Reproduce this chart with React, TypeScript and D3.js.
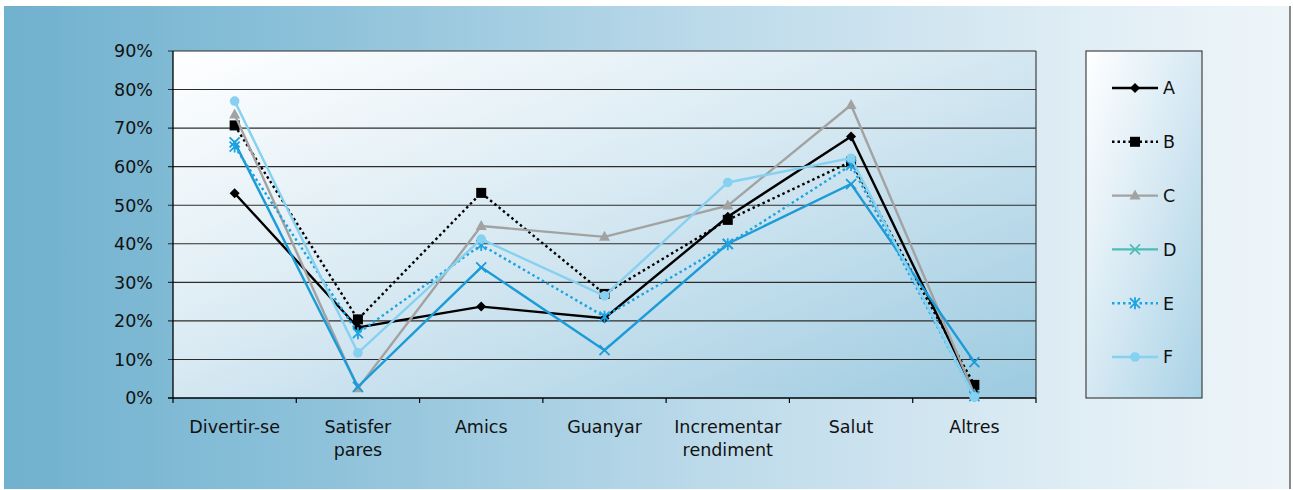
import React from "react";
import * as d3 from "d3";

const categories = ["Divertir-se", "Satisfer pares", "Amics", "Guanyar", "Incrementar rendiment", "Salut", "Altres"];
const categoryLines = [["Divertir-se"], ["Satisfer", "pares"], ["Amics"], ["Guanyar"], ["Incrementar", "rendiment"], ["Salut"], ["Altres"]];
const seriesNames = ["A", "B", "C", "D", "E", "F"];
const valuesA = [53.1, 18.3, 23.7, 20.7, 47.0, 67.8, 1.5];
const valuesB = [70.7, 20.4, 53.2, 27.0, 46.2, 61.3, 3.4];
const valuesC = [73.5, 2.5, 44.6, 41.8, 49.9, 76.0, 1.0];
const valuesD = [66.3, 2.9, 33.9, 12.4, 40.0, 55.5, 9.3];
const valuesE = [65.2, 16.8, 39.7, 21.1, 39.9, 60.4, 0.5];
const valuesF = [77.0, 11.7, 41.2, 26.5, 55.9, 62.2, 0.3];
const yTicks = [0, 10, 20, 30, 40, 50, 60, 70, 80, 90];

const allValues = [valuesA, valuesB, valuesC, valuesD, valuesE, valuesF];

type Style = { color: string; legendColor: string; dash?: string; marker: string };
const styles: Style[] = [
  { color: "#000000", legendColor: "#000000", marker: "diamond" },
  { color: "#000000", legendColor: "#000000", dash: "2.5,3", marker: "square" },
  { color: "#a2a2a2", legendColor: "#a2a2a2", marker: "triangle" },
  { color: "#1b9bd8", legendColor: "#4dbdb5", marker: "x" },
  { color: "#1ca3e2", legendColor: "#1ca3e2", dash: "2.5,3", marker: "star" },
  { color: "#86d0f0", legendColor: "#86d0f0", marker: "circle" },
];

const FONT = "'DejaVu Sans', sans-serif";

function Marker({ type, x, y, color }: { type: string; x: number; y: number; color: string }) {
  const s = 5;
  switch (type) {
    case "diamond":
      return <path d={`M${x},${y - s}L${x + s},${y}L${x},${y + s}L${x - s},${y}Z`} fill={color} />;
    case "square":
      return <rect x={x - 5} y={y - 5} width={10} height={10} fill={color} />;
    case "triangle":
      return <path d={`M${x},${y - 6}L${x + 5.5},${y + 4}L${x - 5.5},${y + 4}Z`} fill={color} />;
    case "x":
      return (
        <path d={`M${x - 5},${y - 5}L${x + 5},${y + 5}M${x - 5},${y + 5}L${x + 5},${y - 5}`} stroke={color} strokeWidth={1.8} fill="none" />
      );
    case "star":
      return (
        <path
          d={`M${x - 5},${y - 5}L${x + 5},${y + 5}M${x - 5},${y + 5}L${x + 5},${y - 5}M${x},${y - 6}L${x},${y + 6}`}
          stroke={color}
          strokeWidth={1.8}
          fill="none"
        />
      );
    case "circle":
      return <circle cx={x} cy={y} r={4.8} fill={color} />;
  }
  return null;
}

export default function App() {
  const W = 1293;
  const H = 490;
  const left = 173;
  const right = 1036;
  const top = 51;
  const bottom = 398;

  const x = d3.scaleBand<string>().domain(categories).range([left, right]);
  const y = d3.scaleLinear().domain([0, 90]).range([bottom, top]);
  const xc = (c: string) => (x(c) as number) + x.bandwidth() / 2;

  const line = d3
    .line<number>()
    .x((_, i) => xc(categories[i]))
    .y((v) => y(v));

  const legendTop = 88;
  const legendStep = 53.8;

  return (
    <svg width={W} height={H} style={{ position: "absolute", left: 0, top: 0 }}>
      <defs>
        <linearGradient id="bg" x1="0" y1="0" x2="1" y2="0">
          <stop offset="0" stopColor="#70b1ce" />
          <stop offset="0.25" stopColor="#8ec2da" />
          <stop offset="0.55" stopColor="#bcdaea" />
          <stop offset="0.85" stopColor="#e1eef5" />
          <stop offset="1" stopColor="#eef5f9" />
        </linearGradient>
        <linearGradient id="plot" x1="0" y1="0" x2="1" y2="1">
          <stop offset="0" stopColor="#ffffff" />
          <stop offset="0.45" stopColor="#d9eaf3" />
          <stop offset="1" stopColor="#9ccae0" />
        </linearGradient>
        <linearGradient id="leg" x1="0" y1="0" x2="1" y2="1">
          <stop offset="0" stopColor="#ffffff" />
          <stop offset="0.5" stopColor="#d6e9f3" />
          <stop offset="1" stopColor="#a9d2e6" />
        </linearGradient>
      </defs>
      <rect x={0} y={0} width={W} height={H} fill="#ffffff" />
      <rect x={4} y={6} width={1286} height={483} fill="url(#bg)" />
      <rect x={1289} y={6} width={2} height={483} fill="#8a8a8a" />

      {/* plot area */}
      <rect x={left} y={top} width={right - left} height={bottom - top} fill="url(#plot)" />
      {yTicks.map((t) => (
        <g key={t}>
          <line x1={left - 5} x2={right} y1={y(t)} y2={y(t)} stroke={t === 0 ? "#000" : "#2c2c2c"} strokeWidth={t === 0 ? 1.3 : 1.1} />
          <text x={153} y={y(t)} dy="0.36em" textAnchor="end" fontFamily={FONT} fontSize={17.5} fill="#111">
            {t}%
          </text>
        </g>
      ))}
      <line x1={left} x2={left} y1={top} y2={bottom} stroke="#000" strokeWidth={1.3} />
      <line x1={right} x2={right} y1={top} y2={bottom} stroke="#333" strokeWidth={1.1} />
      {categories.map((c, i) => (
        <line key={c} x1={(x(c) as number) + x.bandwidth()} x2={(x(c) as number) + x.bandwidth()} y1={bottom} y2={bottom + 5} stroke="#000" strokeWidth={1.2} />
      ))}
      <line x1={left} x2={left} y1={bottom} y2={bottom + 5} stroke="#000" strokeWidth={1.2} />
      {categories.map((c, i) => (
        <text key={c} x={xc(c)} y={433} textAnchor="middle" fontFamily={FONT} fontSize={17.5} fill="#111">
          {categoryLines[i].map((l, j) => (
            <tspan key={j} x={xc(c)} dy={j === 0 ? 0 : 23}>
              {l}
            </tspan>
          ))}
        </text>
      ))}

      {/* series */}
      {allValues.map((vals, si) => (
        <g key={si}>
          <path d={line(vals) as string} fill="none" stroke={styles[si].color} strokeWidth={2.4} strokeDasharray={styles[si].dash} />
          {vals.map((v, i) => (
            <Marker key={i} type={styles[si].marker} x={xc(categories[i])} y={y(v)} color={styles[si].color} />
          ))}
        </g>
      ))}

      {/* legend */}
      <rect x={1086} y={51} width={116} height={347} fill="url(#leg)" stroke="#333" strokeWidth={1.1} />
      {seriesNames.map((n, i) => {
        const ly = legendTop + i * legendStep;
        const st = styles[i];
        return (
          <g key={n}>
            <line x1={1112} x2={1158} y1={ly} y2={ly} stroke={st.legendColor} strokeWidth={2.4} strokeDasharray={st.dash} />
            <Marker type={st.marker} x={1135} y={ly} color={st.legendColor} />
            <text x={1163} y={ly} dy="0.36em" fontFamily={FONT} fontSize={17.5} fill="#111">
              {n}
            </text>
          </g>
        );
      })}
    </svg>
  );
}
